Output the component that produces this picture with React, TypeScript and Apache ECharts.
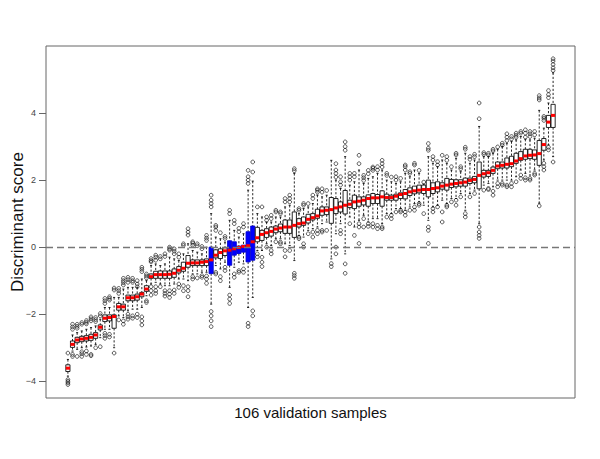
import React, { useEffect, useRef } from "react";
import * as echarts from "echarts";

// ---- data ----
const medians = [
  -3.61, -2.9, -2.77, -2.74, -2.72, -2.69, -2.62, -2.39, -2.12, -2.1,
  -2.07, -1.78, -1.78, -1.51, -1.51, -1.48, -1.4, -1.25, -0.88, -0.82,
  -0.82, -0.82, -0.81, -0.78, -0.69, -0.63, -0.48, -0.47, -0.47, -0.45,
  -0.43, -0.38, -0.24, -0.16, -0.11, -0.09, -0.05, -0.01, 0.02, 0.04,
  0.16, 0.28, 0.38, 0.43, 0.47, 0.54, 0.57, 0.6, 0.6, 0.65,
  0.7, 0.72, 0.83, 0.88, 0.93, 1.08, 1.1, 1.12, 1.17, 1.2,
  1.25, 1.28, 1.35, 1.37, 1.4, 1.45, 1.47, 1.47, 1.5, 1.48,
  1.48, 1.52, 1.57, 1.6, 1.65, 1.68, 1.7, 1.72, 1.72, 1.75,
  1.77, 1.82, 1.85, 1.88, 1.9, 1.92, 1.94, 1.99, 2.02, 2.14,
  2.19, 2.22, 2.29, 2.42, 2.44, 2.47, 2.49, 2.57, 2.64, 2.72,
  2.74, 2.75, 2.79, 3.06, 3.73, 3.93,
];
const lowerQuartiles = [
  -3.71, -2.99, -2.85, -2.82, -2.8, -2.78, -2.72, -2.47, -2.22, -2.2,
  -2.42, -1.88, -1.88, -1.6, -1.6, -1.58, -1.48, -1.32, -0.93, -0.93,
  -0.93, -0.93, -0.93, -0.9, -0.77, -0.72, -0.6, -0.55, -0.55, -0.55,
  -0.55, -0.79, -0.32, -0.34, -0.25, -0.54, -0.24, -0.19, -0.15, -0.44,
  -0.39, 0.16, 0.2, 0.29, 0.33, 0.43, 0.46, 0.41, 0.41, 0.29,
  0.6, 0.65, 0.72, 0.81, 0.86, 0.95, 0.97, 0.71, 1.0, 1.05,
  0.99, 1.18, 1.15, 1.22, 1.26, 1.22, 1.3, 1.3, 1.22, 1.4,
  1.4, 1.4, 1.45, 1.44, 1.54, 1.59, 1.62, 1.6, 1.5, 1.6,
  1.65, 1.73, 1.7, 1.78, 1.8, 1.82, 1.82, 1.9, 1.92, 1.74,
  2.09, 2.11, 2.2, 2.34, 2.36, 2.36, 2.4, 2.5, 2.59, 2.62,
  2.64, 2.62, 2.44, 2.89, 3.57, 3.57,
];
const upperQuartiles = [
  -3.51, -2.8, -2.69, -2.66, -2.64, -2.6, -2.55, -2.32, -2.02, -2.02,
  -2.02, -1.68, -1.7, -1.43, -1.43, -1.4, -1.35, -1.15, -0.8, -0.72,
  -0.71, -0.71, -0.71, -0.65, -0.58, -0.45, -0.25, -0.38, -0.38, -0.38,
  -0.35, 0.0, -0.08, -0.05, -0.02, 0.19, 0.16, 0.03, 0.06, 0.46,
  0.63, 0.59, 0.5, 0.55, 0.6, 0.63, 0.69, 0.81, 0.81, 1.05,
  0.85, 0.9, 0.98, 1.0, 1.13, 1.2, 1.2, 1.48, 1.45, 1.35,
  1.69, 1.4, 1.55, 1.5, 1.5, 1.56, 1.6, 1.57, 1.68, 1.58,
  1.55, 1.58, 1.62, 1.72, 1.77, 1.82, 1.85, 1.85, 2.0, 1.92,
  1.95, 1.92, 2.05, 2.02, 2.01, 2.01, 2.06, 2.06, 2.11, 2.54,
  2.29, 2.29, 2.39, 2.54, 2.54, 2.66, 2.71, 2.8, 2.85, 2.92,
  2.92, 2.9, 3.18, 3.24, 3.93, 4.26,
];
const whiskerLow = [
  -3.85, -3.1, -3.05, -3.0, -2.98, -2.95, -2.9, -2.7, -2.45, -2.45,
  -3.0, -2.05, -2.1, -1.9, -1.85, -1.85, -1.8, -1.45, -1.1, -1.05,
  -1.1, -1.15, -1.15, -1.1, -0.95, -0.95, -1.0, -0.8, -0.8, -0.75,
  -0.75, -1.7, -0.55, -0.65, -0.45, -1.2, -0.6, -0.45, -0.5, -1.8,
  -1.5, -0.1, -0.1, 0.1, 0.05, 0.25, 0.25, 0.1, 0.05, -0.4,
  0.35, 0.3, 0.5, 0.55, 0.6, 0.7, 0.75, -0.35, 0.4, 0.7,
  -0.2, 0.9, 0.6, 0.8, 0.95, 0.75, 0.85, 0.85, 0.7, 1.0,
  1.0, 1.15, 1.15, 1.1, 1.2, 1.3, 1.35, 1.25, 0.8, 1.2,
  1.25, 1.4, 1.3, 1.45, 1.45, 1.6, 1.1, 1.6, 1.7, 0.7,
  1.85, 1.9, 1.8, 2.0, 2.0, 2.0, 2.0, 2.1, 2.3, 2.2,
  2.15, 2.3, 1.31, 2.6, 3.05, 2.7,
];
const whiskerHigh = [
  -3.35, -2.62, -2.55, -2.5, -2.45, -2.4, -2.35, -2.15, -1.8, -1.8,
  -1.5, -1.5, -1.25, -1.2, -1.2, -1.2, -0.95, -1.0, -0.55, -0.5,
  -0.55, -0.5, -0.3, -0.35, -0.4, -0.2, 0.1, -0.1, -0.15, -0.2,
  0.0, 1.0, 0.3, 0.25, 0.15, 0.8, 0.5, 0.3, 0.4, 1.7,
  1.97, 1.0, 0.9, 0.75, 0.75, 0.9, 0.9, 1.2, 1.25, 2.2,
  1.0, 1.15, 1.2, 1.3, 1.55, 1.5, 1.55, 2.59, 2.0, 1.75,
  2.7, 1.85, 1.95, 2.3, 1.9, 2.05, 2.1, 2.2, 2.3, 2.0,
  1.95, 1.9, 1.95, 2.2, 2.1, 2.3, 2.2, 1.88, 2.7, 2.5,
  2.4, 2.6, 2.5, 2.3, 2.65, 2.25, 2.8, 2.5, 2.6, 3.6,
  2.7, 2.7, 2.8, 2.92, 3.0, 3.1, 3.15, 3.2, 3.3, 3.22,
  3.2, 3.25, 4.08, 3.55, 4.3, 5.2,
];
const outliers: number[][] = [
  [-3.16, -3.95, -4.0, -4.05, -4.1],
  [-2.3, -2.38, -2.45, -3.2, -3.26],
  [-2.3, -2.36, -2.42, -3.26],
  [-2.25, -2.3, -3.12, -3.18, -3.26],
  [-2.19, -2.24, -2.29, -3.1, -3.2],
  [-2.08, -2.14, -2.2, -3.2, -3.24],
  [-2.1, -2.16, -2.22, -3.0],
  [-1.98, -2.05, -2.97],
  [-1.53, -1.6, -1.68, -2.57, -2.64, -2.72],
  [-1.48, -1.53, -1.58, -2.6, -2.68],
  [-1.22, -1.28, -3.16],
  [-1.23, -1.3, -1.38, -2.17],
  [-0.93, -1.0, -1.06, -1.13, -2.2, -2.3],
  [-0.9, -0.97, -1.05, -2.0, -2.08, -2.15],
  [-0.93, -1.0, -1.05, -2.05, -2.12],
  [-1.0, -1.1, -1.18, -2.0, -2.1],
  [-0.6, -0.66, -0.73, -2.08, -2.2, -2.32],
  [-0.8, -0.86, -0.92, -1.6, -1.65],
  [-0.34, -0.4, -0.44, -1.18, -1.3, -1.43],
  [-0.24, -0.3, -0.39, -1.18, -1.3, -1.38],
  [-0.28, -0.35, -1.18],
  [-0.2, -0.28, -1.3, -1.38, -1.46],
  [0.0, -0.05, -0.09, -1.3, -1.4, -1.5],
  [-0.05, -0.12, -0.2, -1.28, -1.38],
  [-0.2, -0.3, -1.1, -1.2],
  [0.05, 0.1, -1.15, -1.3],
  [0.36, 0.45, 0.55, -1.18, -1.3, -1.48],
  [0.06, 0.12, 0.16, -0.88, -0.95],
  [0.04, 0.1, -0.92],
  [-0.05, 0.02, -0.85, -0.9],
  [0.2, 0.27, 0.35, -0.86, -0.95, -1.08],
  [1.2, 1.3, 1.4, 1.55, -1.92, -2.05, -2.2, -2.37],
  [0.5, 0.6, 0.65, -0.75, -0.8],
  [0.43, -0.88, -1.0],
  [0.26, 0.32, -0.6, -0.7],
  [1.0, 1.1, -1.43, -1.55, -1.68],
  [0.7, 0.8, -0.8, -0.9],
  [0.46, 0.56, -0.7, -0.75],
  [0.6, 0.7, -0.65, -0.75],
  [1.9, 2.0, 2.1, 2.29, -2.27, -2.37],
  [2.24, 2.54, -1.9, -2.05],
  [1.2, -0.2, -0.29],
  [1.2, -0.3, -0.45, -0.58],
  [0.8, 0.9, 0.0],
  [0.85, 0.95, -0.1, -0.2],
  [1.05, 1.1, 0.16],
  [1.0, 1.05, 0.1, 0.15],
  [1.35, 1.45, -0.1, -0.29],
  [1.35, 1.45, 1.55, -0.1],
  [2.28, 2.34, -0.78, -0.85, -0.93],
  [1.1, 1.15, 0.25, 0.3],
  [1.25, 1.3, 0.0, 0.1],
  [1.3, 0.4],
  [1.45, 1.55, 0.3, 0.45],
  [1.64, 1.7, 1.74, 0.4, 0.5],
  [1.64, 1.74, 0.45, 0.5],
  [1.69, 0.5],
  [-0.49, -0.58],
  [2.09, 2.2, 2.3, 2.49, 0.0, -0.2],
  [1.85, 1.95, 2.1, 0.4, 0.5],
  [2.89, 3.0, 3.14, -0.5, -0.78],
  [2.0, 2.1, 2.2, 0.7],
  [2.1, 2.2, 0.35],
  [2.49, 2.74, 0.6, 0.7, 0.11],
  [1.99, 2.07, 2.14, 0.6, 0.85],
  [2.19, 2.29, 0.62, 0.7],
  [2.29, 2.35, 2.39, 0.6, 0.7],
  [2.3, 2.4, 0.55, 0.65],
  [2.39, 2.49, 2.59, 0.55, 0.6],
  [2.14, 2.2, 0.9],
  [2.09, 0.85, 0.95],
  [2.0, 2.1, 1.05],
  [2.05, 1.05, 1.1],
  [2.3, 2.4, 2.45, 0.95, 1.05],
  [2.2, 2.25, 1.1],
  [2.45, 2.5, 1.1, 1.2],
  [2.29, 1.25, 1.3],
  [1.94, 1.0],
  [2.89, 2.95, 3.09, 0.5, 0.6, 0.11],
  [2.6, 2.7, 1.05, 1.15],
  [2.45, 2.55, 1.2],
  [2.74, 1.05, 0.75],
  [2.59, 2.7, 1.2, 1.25],
  [2.4, 1.35],
  [2.75, 2.8, 1.25, 1.4],
  [2.34, 2.4, 1.5],
  [2.92, 2.98, 0.9, 1.0],
  [2.62, 2.7, 1.5],
  [2.7, 2.77, 1.6],
  [3.83, 4.3, 0.6, 0.45, 0.35, 0.26],
  [2.77, 2.82, 1.7],
  [2.75, 2.8, 1.72, 1.75],
  [2.87, 2.92, 1.67, 1.55],
  [2.99, 1.9, 1.8],
  [3.04, 3.1, 1.9, 1.85],
  [3.18, 3.28, 3.38, 1.85, 1.8],
  [3.23, 3.3, 1.8, 1.9],
  [3.28, 3.34, 3.4, 1.95],
  [3.4, 3.45, 2.15, 2.05],
  [3.28, 3.4, 3.5, 2.07, 2.0],
  [3.3, 3.38, 3.45, 2.05, 2.0],
  [3.35, 3.45, 2.2, 2.15],
  [4.39, 4.45, 4.52, 1.23],
  [3.78, 3.85, 3.9, 2.5, 2.4, 2.3],
  [4.46, 4.55, 4.67, 2.98, 2.9],
  [5.27, 5.35, 5.45, 5.55, 5.62, 2.54],
];
const highlightedSamples = [32, 36, 37, 38, 39, 40, 41];
const yTickValues = [-4, -2, 0, 2, 4];
const xTitle = "106 validation samples";
const yTitle = "Discriminant score";

const FONT = "'Liberation Sans', Arial, Helvetica, sans-serif";

export default function App() {
  const ref = useRef<HTMLDivElement>(null);

  useEffect(() => {
    if (!ref.current) return;
    const chart = echarts.init(ref.current, undefined, { renderer: "svg" });

    const boxData = medians.map((m, i) => [
      i + 1,
      whiskerLow[i],
      lowerQuartiles[i],
      m,
      upperQuartiles[i],
      whiskerHigh[i],
      highlightedSamples.includes(i + 1) ? 1 : 0,
    ]);
    const outlierData: number[][] = [];
    outliers.forEach((list, i) => list.forEach((v) => outlierData.push([i + 1, v])));

    const renderItem = (params: any, api: any) => {
      const x = api.value(0);
      const pLo = api.coord([x, api.value(1)]);
      const pQ1 = api.coord([x, api.value(2)]);
      const pMed = api.coord([x, api.value(3)]);
      const pQ3 = api.coord([x, api.value(4)]);
      const pHi = api.coord([x, api.value(5)]);
      const blue = api.value(6) === 1;
      const w = api.size([0.9, 0])[0];
      const half = w / 2;
      const cap = w / 4;
      const px = pMed[0];
      const dash = { stroke: "#000", lineWidth: 0.85, lineDash: [2.2, 1.8] };
      const solid = { stroke: "#000", lineWidth: 0.85 };
      return {
        type: "group",
        children: [
          { type: "line", shape: { x1: px, y1: pHi[1], x2: px, y2: pQ3[1] }, style: dash },
          { type: "line", shape: { x1: px, y1: pQ1[1], x2: px, y2: pLo[1] }, style: dash },
          { type: "line", shape: { x1: px - cap, y1: pHi[1], x2: px + cap, y2: pHi[1] }, style: solid },
          { type: "line", shape: { x1: px - cap, y1: pLo[1], x2: px + cap, y2: pLo[1] }, style: solid },
          {
            type: "rect",
            shape: { x: px - half, y: pQ3[1], width: w, height: pQ1[1] - pQ3[1] },
            style: { fill: blue ? "#0000ff" : "#ffffff", stroke: blue ? "#0000cc" : "#000", lineWidth: 0.85 },
          },
          {
            type: "line",
            shape: { x1: px - half, y1: pMed[1], x2: px + half, y2: pMed[1] },
            style: { stroke: "#ff0000", lineWidth: 3 },
          },
        ],
      };
    };

    chart.setOption({
      animation: false,
      textStyle: { fontFamily: FONT },
      grid: {
        left: 46,
        right: 25,
        top: 46,
        bottom: 61,
        show: true,
        borderColor: "#666",
        borderWidth: 1,
        backgroundColor: "transparent",
        containLabel: false,
        outerBoundsMode: "none",
      },
      xAxis: {
        type: "value",
        min: -3.74,
        max: 110.74,
        axisLine: { show: false, onZero: false },
        axisTick: { show: false },
        axisLabel: { show: false },
        splitLine: { show: false },
        name: xTitle,
        nameLocation: "middle",
        nameGap: 7,
        nameTextStyle: { fontSize: 15, color: "#111", fontFamily: FONT, verticalAlign: "top" },
      },
      yAxis: {
        type: "value",
        min: -4.5,
        max: 6.0,
        axisLine: { show: false, onZero: false },
        splitLine: { show: false },
        axisTick: {
          show: true,
          customValues: yTickValues,
          length: 7,
          lineStyle: { color: "#666", width: 1 },
        },
        axisLabel: {
          show: true,
          customValues: yTickValues,
          fontSize: 9,
          color: "#444",
          margin: 10,
          formatter: (v: number) => (v < 0 ? "\u2212" + Math.abs(v) : String(v)),
        },
        name: yTitle,
        nameLocation: "middle",
        nameRotate: 90,
        nameGap: 20,
        nameMoveOverlap: false,
        nameTextStyle: { fontSize: 17, color: "#111", fontFamily: FONT },
      },
      series: [
        {
          type: "custom",
          renderItem,
          data: boxData,
          encode: { x: 0, y: [1, 5] },
          z: 2,
          silent: true,
        },
        {
          type: "scatter",
          data: outlierData,
          symbol: "circle",
          symbolSize: 3.7,
          itemStyle: { color: "rgba(0,0,0,0)", borderColor: "#000", borderWidth: 0.8 },
          z: 3,
          silent: true,
          markLine: {
            silent: true,
            symbol: "none",
            label: { show: false },
            lineStyle: { color: "#777", width: 1.4, type: [7, 4] },
            data: [{ yAxis: 0 }],
            z: 4,
          },
        },
      ],
    });

    return () => chart.dispose();
  }, []);

  return (
    <div
      ref={ref}
      style={{ position: "absolute", left: 0, top: 0, width: 600, height: 459, background: "#fff" }}
    />
  );
}
